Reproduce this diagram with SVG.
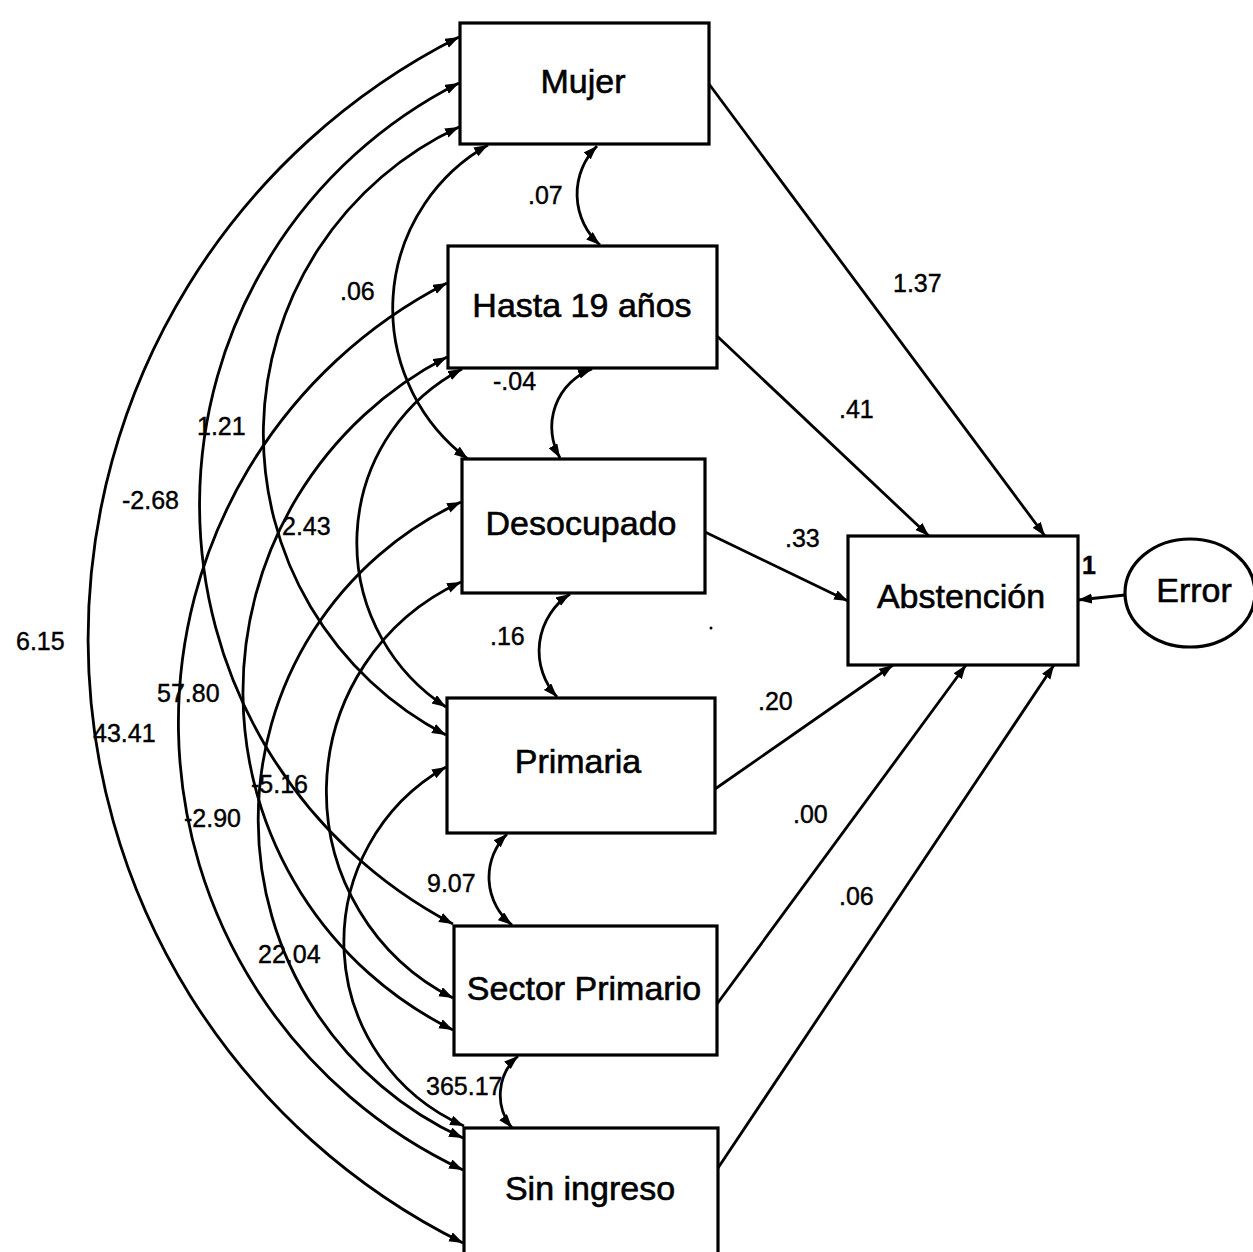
<svg xmlns="http://www.w3.org/2000/svg" width="1253" height="1252" viewBox="0 0 1253 1252">
<style>
.box{fill:#fff;stroke:#000;stroke-width:3.2}
.lbl{font-family:"Liberation Sans",Arial,sans-serif;font-size:34px;fill:#000;stroke:#000;stroke-width:0.6;text-anchor:middle}
.num{font-family:"Liberation Sans",Arial,sans-serif;font-size:25px;fill:#000;stroke:#000;stroke-width:0.4}
.cov{fill:none;stroke:#000;stroke-width:2.8;marker-start:url(#ah);marker-end:url(#ah)}
.path{fill:none;stroke:#000;stroke-width:2.8;marker-end:url(#ah)}
</style>
<defs>
<marker id="ah" markerUnits="userSpaceOnUse" markerWidth="15" markerHeight="11" refX="14" refY="5" orient="auto-start-reverse" viewBox="0 0 15 11">
<path d="M0,0 L14,5 L0,10 z" fill="#000"/>
</marker>
</defs>
<rect width="1253" height="1252" fill="#fff"/>
<g id="connectors">
<path class="cov" d="M 459 37 A 674 674 0 0 0 463 1243"/>
<path class="cov" d="M 459 83 A 473 473 0 0 0 453 924"/>
<path class="cov" d="M 459 127 A 339 339 0 0 0 446 735"/>
<path class="cov" d="M 488 145 A 188 188 0 0 0 468 459"/>
<path class="cov" d="M 447 283 A 494 494 0 0 0 463 1170"/>
<path class="cov" d="M 447 357 A 377 377 0 0 0 453 1030"/>
<path class="cov" d="M 462 369 A 196 196 0 0 0 446 707"/>
<path class="cov" d="M 461 502 A 350 350 0 0 0 463 1138"/>
<path class="cov" d="M 461 582 A 231 231 0 0 0 453 998"/>
<path class="cov" d="M 446 767 A 201 201 0 0 0 464 1126"/>
<path class="cov" d="M 597 146 A 68 68 0 0 0 600 245"/>
<path class="cov" d="M 592 369 A 62 62 0 0 0 560 458"/>
<path class="cov" d="M 570 594 A 68 68 0 0 0 557 697"/>
<path class="cov" d="M 507 834 A 61 61 0 0 0 512 925"/>
<path class="cov" d="M 518 1056 A 52 52 0 0 0 512 1128"/>
<path class="path" d="M 709 84 L 1045 536"/>
<path class="path" d="M 717 336 L 929 536"/>
<path class="path" d="M 705 532 L 848 601"/>
<path class="path" d="M 715 789 L 893 665"/>
<path class="path" d="M 717 1004 L 966 665"/>
<path class="path" d="M 718 1168 L 1054 665"/>
<path class="path" d="M 1125 595 L 1078 600"/>
</g>
<g id="labels">
<text class="num" x="528" y="204">.07</text>
<text class="num" x="893" y="292">1.37</text>
<text class="num" x="340" y="300">.06</text>
<text class="num" x="839" y="418">.41</text>
<text class="num" x="493" y="390">-.04</text>
<text class="num" x="197" y="435">1.21</text>
<text class="num" x="122" y="509">-2.68</text>
<text class="num" x="282" y="535">2.43</text>
<text class="num" x="785" y="547">.33</text>
<text class="num" x="16" y="650">6.15</text>
<text class="num" x="490" y="645">.16</text>
<text class="num" x="157" y="702">57.80</text>
<text class="num" x="758" y="710">.20</text>
<text class="num" x="93" y="742">43.41</text>
<text class="num" x="251" y="793">-5.16</text>
<text class="num" x="184" y="827">-2.90</text>
<text class="num" x="793" y="823">.00</text>
<text class="num" x="427" y="892">9.07</text>
<text class="num" x="839" y="905">.06</text>
<text class="num" x="258" y="963">22.04</text>
<text class="num" x="426" y="1095">365.17</text>
<text class="num" x="1082" y="574" font-weight="bold">1</text>
</g>
<g id="mujer"><rect class="box" x="460" y="23" width="249" height="121"/><text class="lbl" x="583" y="93">Mujer</text></g>
<g id="hasta19"><rect class="box" x="448" y="246" width="269" height="122"/><text class="lbl" x="582" y="317">Hasta 19 años</text></g>
<g id="desocupado"><rect class="box" x="462" y="459" width="243" height="134"/><text class="lbl" x="581" y="535">Desocupado</text></g>
<g id="primaria"><rect class="box" x="447" y="698" width="268" height="135"/><text class="lbl" x="578" y="773">Primaria</text></g>
<g id="sector"><rect class="box" x="454" y="926" width="263" height="129"/><text class="lbl" x="584" y="1000">Sector Primario</text></g>
<g id="sin"><rect class="box" x="464" y="1128" width="254" height="135"/><text class="lbl" x="590" y="1200">Sin ingreso</text></g>
<g id="abstencion"><rect class="box" x="848" y="536" width="230" height="129"/><text class="lbl" x="961" y="608">Abstención</text></g>
<g id="error"><ellipse cx="1190" cy="593" rx="65" ry="54" fill="#fff" stroke="#000" stroke-width="3.2"/><text class="lbl" x="1194" y="602">Error</text></g>
<circle cx="711" cy="628" r="1.5" fill="#000"/>
</svg>
